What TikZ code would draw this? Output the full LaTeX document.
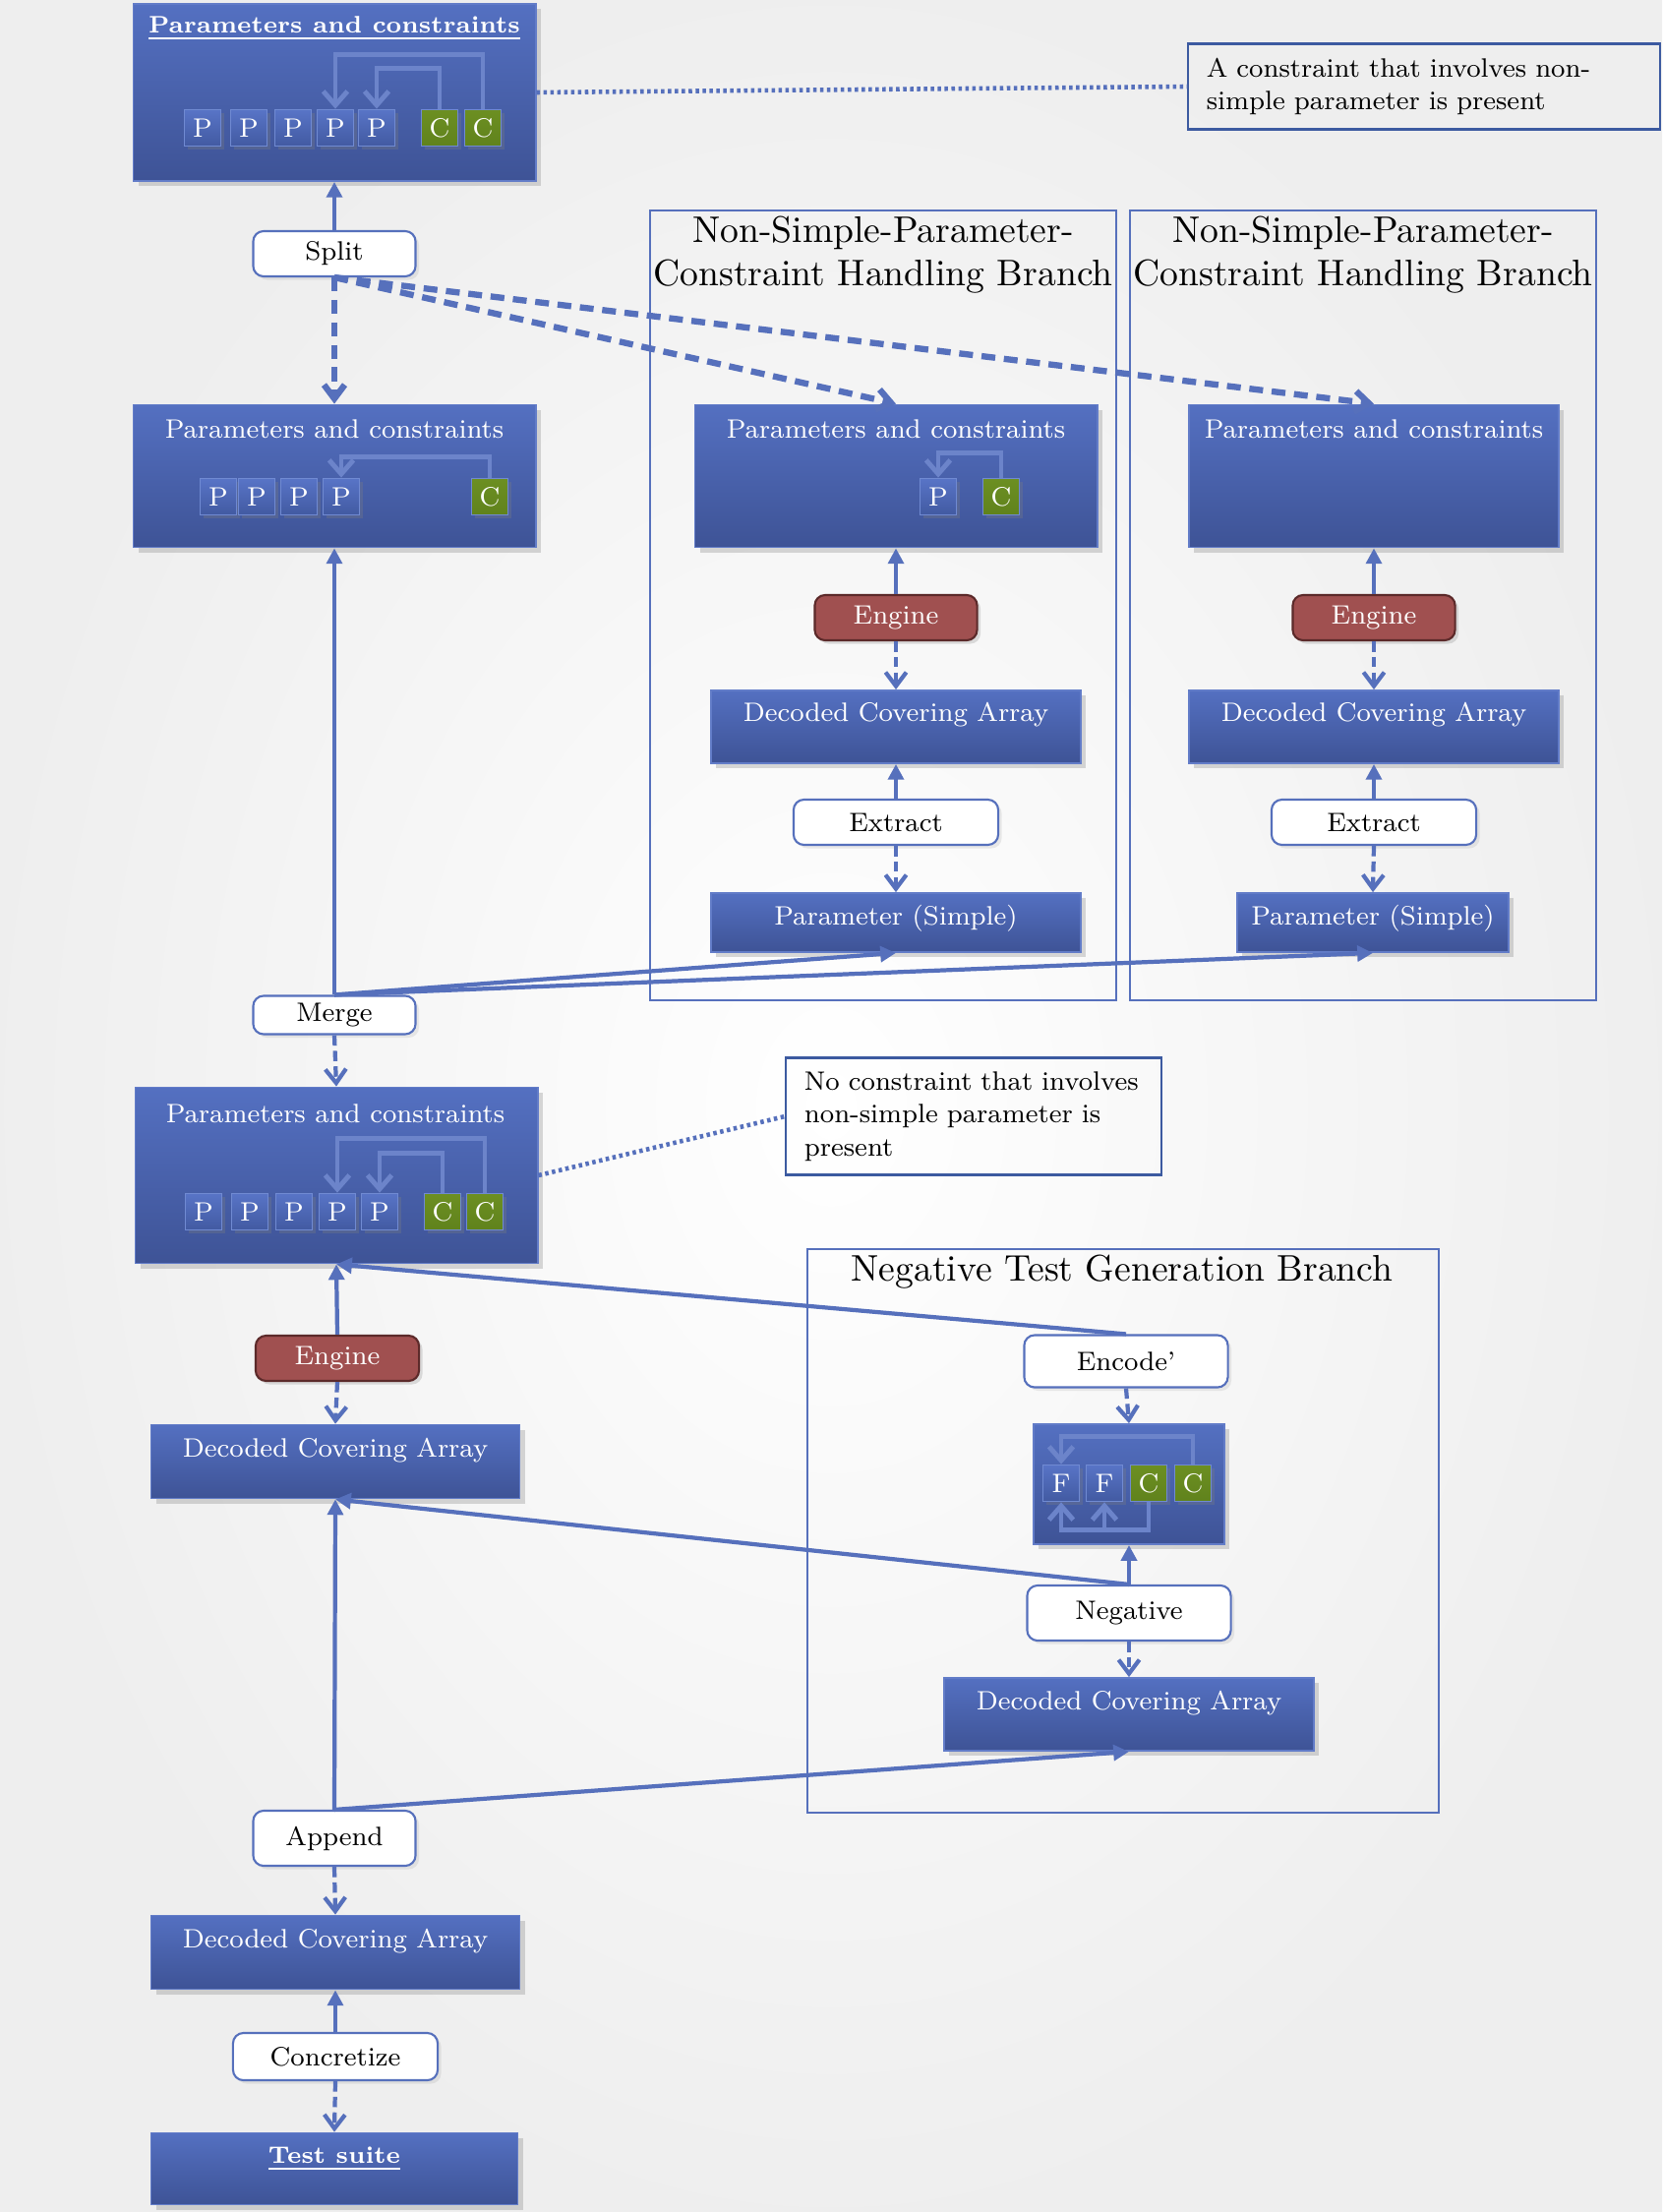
\documentclass[tikz,border=0pt]{standalone}
\usetikzlibrary{arrows.meta,shadows}

\definecolor{boxtop}{RGB}{84,112,193}
\definecolor{boxbot}{RGB}{62,83,150}
\definecolor{boxedge}{RGB}{98,124,200}
\definecolor{ptop}{RGB}{88,116,198}
\definecolor{pbot}{RGB}{66,90,162}
\definecolor{pedge}{RGB}{112,138,210}
\definecolor{ctop}{RGB}{108,143,34}
\definecolor{cbot}{RGB}{96,130,28}
\definecolor{wireblue}{RGB}{86,112,188}
\definecolor{inwire}{RGB}{108,132,202}
\definecolor{engred}{RGB}{160,80,80}
\definecolor{engedge}{RGB}{92,42,42}
\definecolor{noteedge}{RGB}{60,90,160}

\newcommand\txt{\fontsize{7.7}{9.6}\selectfont}
\newcommand\boldtxt{\fontsize{6.9}{9}\selectfont\bfseries}
\newcommand\bigtxt{\fontsize{10.7}{12.7}\selectfont}

\begin{document}
\begin{tikzpicture}[x=0.01cm, y=-0.01cm,
    bigbox/.style={draw=boxedge, line width=0.5pt, top color=boxtop, bottom color=boxbot,
        drop shadow={opacity=0.3, shadow xshift=1.5pt, shadow yshift=-1.5pt}, inner sep=0pt},
    boxtitle/.style={text=white, font=\txt, inner sep=0pt},
    pbox/.style={draw=pedge, line width=0.5pt, top color=ptop, bottom color=pbot, text=white,
        font=\txt, minimum size=0.37cm, inner sep=0pt,
        drop shadow={opacity=0.3, shadow xshift=1pt, shadow yshift=-1pt}},
    cbox/.style={pbox, top color=ctop, bottom color=cbot},
    opbox/.style={draw=wireblue, line width=0.6pt, fill=white, rounded corners=3pt, font=\txt,
        inner sep=0pt, drop shadow={opacity=0.15, shadow xshift=1pt, shadow yshift=-1pt}},
    engbox/.style={draw=engedge, line width=0.6pt, fill=engred, text=white, rounded corners=3pt,
        font=\txt, inner sep=0pt, drop shadow={opacity=0.25, shadow xshift=1pt, shadow yshift=-1pt}},
    note/.style={draw=noteedge, line width=0.6pt, font=\txt, align=left, inner sep=0pt},
    branch/.style={draw=wireblue, line width=0.6pt},
    branchtitle/.style={font=\bigtxt, align=center, inner sep=0pt},
    wire/.style={draw=wireblue, line width=1.2pt},
    uplink/.style={wire, -{Triangle[length=4.5pt,width=4.5pt]}},
    downlink/.style={wire, dash pattern=on 3pt off 1.5pt, -{Straight Barb[length=4pt,width=6pt]}},
    splitlink/.style={wire, line width=1.8pt, dash pattern=on 4pt off 2.5pt, -{Straight Barb[length=4pt,width=6pt]}},
    inlink/.style={draw=inwire, line width=1.4pt, -{Straight Barb[length=4pt,width=7pt]}},
    dotline/.style={draw=wireblue, line width=1.3pt, dash pattern=on 1pt off 1pt}]

    \useasboundingbox (0,0) rectangle (1690,2249);
    \shade[inner color=white, outer color=gray!13] (0,0) rectangle (1690,2249);

    % branch frames
    \draw[branch] (661,214) rectangle (1135,1017);
    \draw[branch] (1149,214) rectangle (1623,1017);
    \draw[branch] (821,1270) rectangle (1463,1843);
    \node[branchtitle] (br1 title) at (898,259) {Non-Simple-Parameter-\\Constraint Handling Branch};
    \node[branchtitle] (br2 title) at (1386,259) {Non-Simple-Parameter-\\Constraint Handling Branch};
    \node[branchtitle] (brn title) at (1141,1293) {Negative Test Generation Branch};

    % parameters and constraints, all of them
    \node[bigbox, minimum width=4.09cm, minimum height=1.80cm] (pc1) at (340,94) {};
    \node[boxtitle, font=\boldtxt] (pc1 title) at (340,29) {\underline{Parameters and constraints}};
    \foreach \x [count=\i] in {206,253,298,341,383}
        \node[pbox] (pa\i) at (\x,130) {P};
    \foreach \x [count=\i] in {447,491}
        \node[cbox] (ca\i) at (\x,130) {C};
    \draw[inlink] (ca1.north) -- ++(0,-41) -| (pa5.north);
    \draw[inlink] (ca2.north) -- ++(0,-55) -| (pa4.north);

    % simple part
    \node[bigbox, minimum width=4.09cm, minimum height=1.45cm] (pc2) at (340,484) {};
    \node[boxtitle] (pc2 title) at (340,436) {Parameters and constraints};
    \foreach \x [count=\i] in {222,261,304,347}
        \node[pbox] (pb\i) at (\x,505) {P};
    \node[cbox] (cb1) at (498,505) {C};
    \draw[inlink] (cb1.north) -- ++(0,-21) -| (pb4.north);

    % non-simple parts
    \node[bigbox, minimum width=4.09cm, minimum height=1.45cm] (pc3) at (911,484) {};
    \node[boxtitle] (pc3 title) at (911,436) {Parameters and constraints};
    \node[pbox] (pc3p) at (954,505) {P};
    \node[cbox] (pc3c) at (1018,505) {C};
    \draw[inlink] (pc3c.north) -- ++(0,-25) -| (pc3p.north);

    \node[bigbox, minimum width=3.76cm, minimum height=1.45cm] (pc4) at (1397,484) {};
    \node[boxtitle] (pc4 title) at (1397,436) {Parameters and constraints};

    \foreach \c/\n in {911/3,1397/4} {
        \node[engbox, minimum width=1.65cm, minimum height=0.46cm] (eng\n) at (\c,628) {Engine};
        \node[bigbox, minimum width=3.76cm, minimum height=0.74cm] (dca\n) at (\c,739) {};
        \node[boxtitle] (dca\n title) at (\c,727) {Decoded Covering Array};
        \node[opbox, minimum width=2.08cm, minimum height=0.46cm] (ext\n) at (\c,836) {Extract};
        \draw[uplink] (eng\n.north) -- (pc\n.south);
        \draw[downlink] (eng\n.south) -- (dca\n.north);
        \draw[uplink] (ext\n.north) -- (dca\n.south);
    }
    \node[bigbox, minimum width=3.76cm, minimum height=0.60cm] (par3) at (911,938) {};
    \node[boxtitle] (par3 title) at (911,934) {Parameter (Simple)};
    \node[bigbox, minimum width=2.76cm, minimum height=0.60cm] (par4) at (1396,938) {};
    \node[boxtitle] (par4 title) at (1396,934) {Parameter (Simple)};
    \draw[downlink] (ext3.south) -- (par3.north);
    \draw[downlink] (ext4.south) -- (par4.north);

    % split and merge
    \node[opbox, minimum width=1.65cm, minimum height=0.46cm] (split) at (340,258) {Split};
    \draw[uplink] (split.north) -- (pc1.south);
    \draw[splitlink] (split.south) -- (pc2.north);
    \draw[splitlink] (split.south) -- (pc3.north);
    \draw[splitlink] (split.south) -- (pc4.north);

    \node[opbox, minimum width=1.65cm, minimum height=0.39cm] (merge) at (340,1032) {Merge};
    \draw[uplink] (merge.north) -- (pc2.south);
    \draw[uplink] (merge.north) -- (par3.south);
    \draw[uplink] (merge.north) -- (par4.south);

    % merged parameters and constraints
    \node[bigbox, minimum width=4.09cm, minimum height=1.79cm] (pc5) at (342,1195) {};
    \node[boxtitle] (pc5 title) at (341,1132) {Parameters and constraints};
    \foreach \x [count=\i] in {207,254,299,343,386}
        \node[pbox] (pe\i) at (\x,1232) {P};
    \foreach \x [count=\i] in {450,493}
        \node[cbox] (ce\i) at (\x,1232) {C};
    \draw[inlink] (ce1.north) -- ++(0,-40) -| (pe5.north);
    \draw[inlink] (ce2.north) -- ++(0,-55) -| (pe4.north);
    \draw[downlink] (merge.south) -- (pc5.north);

    % notes
    \node[note, minimum width=4.79cm, minimum height=0.87cm, text width=4.42cm] (note1) at (1448,88)
        {A constraint that involves non-\\simple parameter is present};
    \node[note, minimum width=3.81cm, minimum height=1.19cm, text width=3.44cm] (note2) at (990,1135)
        {\hyphenpenalty=10000 No constraint that involves\\non-simple parameter is\\present};
    \draw[dotline] (pc1.east) -- (note1.west);
    \draw[dotline] (pc5.east) -- (note2.west);

    % main engine
    \node[engbox, minimum width=1.66cm, minimum height=0.46cm] (engl) at (343,1381) {Engine};
    \node[bigbox, minimum width=3.75cm, minimum height=0.75cm] (dcal) at (341,1486) {};
    \node[boxtitle] (dcal title) at (341,1475) {Decoded Covering Array};
    \draw[uplink] (engl.north) -- (pc5.south);
    \draw[downlink] (engl.south) -- (dcal.north);

    % negative branch
    \node[opbox, minimum width=2.07cm, minimum height=0.53cm] (enc) at (1145,1384) {Encode'};
    \node[bigbox, minimum width=1.94cm, minimum height=1.22cm] (ffcc) at (1148,1509) {};
    \foreach \x [count=\i] in {1079,1123}
        \node[pbox] (fn\i) at (\x,1508) {F};
    \foreach \x [count=\i] in {1168,1213}
        \node[cbox] (cn\i) at (\x,1508) {C};
    \draw[inlink] (cn2.north) -- ++(0,-28) -| (fn1.north);
    \draw[inlink] (cn1.south) -- ++(0,28) -| (fn1.south);
    \draw[inlink] (cn1.south) ++(0,28) -| (fn2.south);
    \node[opbox, minimum width=2.07cm, minimum height=0.56cm] (neg) at (1148,1640) {Negative};
    \node[bigbox, minimum width=3.76cm, minimum height=0.74cm] (dcan) at (1148,1743) {};
    \node[boxtitle] (dcan title) at (1148,1732) {Decoded Covering Array};
    \draw[uplink] (enc.north) -- (pc5.south);
    \draw[downlink] (enc.south) -- (ffcc.north);
    \draw[uplink] (neg.north) -- (ffcc.south);
    \draw[uplink] (neg.north) -- (dcal.south);
    \draw[downlink] (neg.south) -- (dcan.north);

    % append and output
    \node[opbox, minimum width=1.65cm, minimum height=0.56cm] (append) at (340,1869) {Append};
    \node[bigbox, minimum width=3.75cm, minimum height=0.75cm] (dcaf) at (341,1985) {};
    \node[boxtitle] (dcaf title) at (341,1974) {Decoded Covering Array};
    \draw[uplink] (append.north) -- (dcal.south);
    \draw[uplink] (append.north) -- (dcan.south);
    \draw[downlink] (append.south) -- (dcaf.north);

    \node[opbox, minimum width=2.08cm, minimum height=0.48cm] (concr) at (341,2091) {Concretize};
    \node[bigbox, minimum width=3.73cm, minimum height=0.73cm] (suite) at (340,2205) {};
    \node[boxtitle, font=\boldtxt] (suite title) at (340,2195) {\underline{Test suite}};
    \draw[uplink] (concr.north) -- (dcaf.south);
    \draw[downlink] (concr.south) -- (suite.north);
\end{tikzpicture}
\end{document}
